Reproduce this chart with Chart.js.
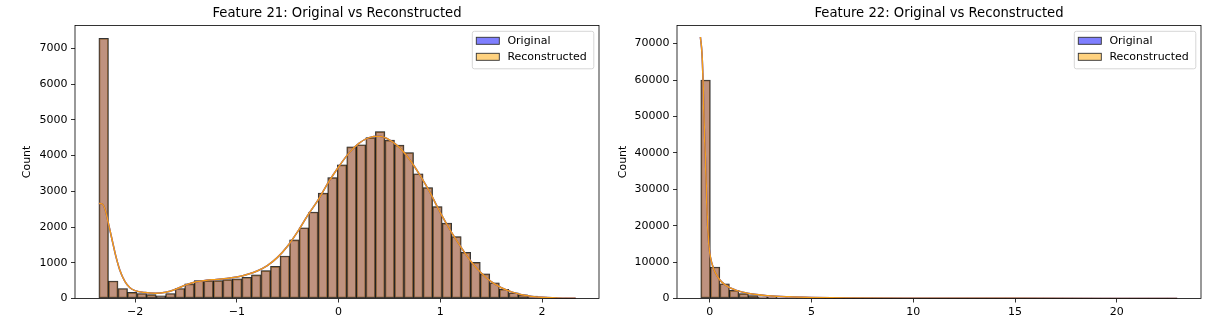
<!doctype html>
<html><head><meta charset="utf-8">
<script src="https://cdn.jsdelivr.net/npm/chart.js@4.4.0/dist/chart.umd.min.js"></script>
<style>
  body{margin:0;background:#fff;width:1213px;height:328px;overflow:hidden;position:relative}
  .box{position:absolute;top:0;height:328px}
  #b21{left:0;width:606px}
  #b22{left:606px;width:607px}
</style></head><body>
<div class="box" id="b21"><canvas id="f21"></canvas></div>
<div class="box" id="b22"><canvas id="f22"></canvas></div>
<script>
// Feature 21: 50 bins, original and reconstructed histograms coincide
const f21BinStart = -2.355;
const f21BinWidth = 0.0937;
const f21Counts = [7280, 490, 280, 170, 140, 110, 75, 140, 280, 410,
  500, 500, 500, 530, 550, 595, 660, 780, 900, 1190,
  1640, 1980, 2420, 2950, 3380, 3740, 4240, 4300, 4500, 4670,
  4430, 4290, 4080, 3490, 3100, 2570, 2110, 1730, 1290, 1010,
  690, 440, 260, 160, 100, 65, 40, 25, 15, 10];
const f21KdeX = [-2.355, -2.32, -2.29, -2.26, -2.23, -2.19, -2.15, -2.10, -2.05, -2.0,
  -1.9, -1.8, -1.7, -1.6, -1.5, -1.4, -1.3, -1.2, -1.1, -1.0,
  -0.9, -0.8, -0.7, -0.6, -0.5, -0.4, -0.3, -0.2, -0.1, 0.0,
  0.1, 0.2, 0.3, 0.4, 0.5, 0.6, 0.7, 0.8, 0.9, 1.0,
  1.1, 1.2, 1.3, 1.4, 1.5, 1.6, 1.7, 1.8, 1.9, 2.0, 2.1, 2.2, 2.33];
const f21KdeY = [2660, 2640, 2450, 2080, 1700, 1200, 800, 480, 300, 220,
  165, 150, 175, 260, 380, 470, 510, 530, 560, 600,
  670, 770, 920, 1150, 1470, 1880, 2340, 2760, 3250, 3680,
  4060, 4340, 4500, 4540, 4440, 4220, 3880, 3450, 2960, 2400,
  1900, 1450, 1040, 720, 470, 300, 185, 105, 58, 32, 18, 10, 5];
const f21XTicks = [-2, -1, 0, 1, 2];
const f21YTicks = [0, 1000, 2000, 3000, 4000, 5000, 6000, 7000];

// Feature 22
const f22BinStart = -0.44;
const f22BinWidth = 0.468;
const f22Counts = [60000, 8650, 4050, 2250, 1350, 820, 470, 300, 200, 150,
  110, 85, 65, 50, 40, 32, 26, 22, 18, 15,
  13, 11, 10, 9, 8, 7, 6, 6, 5, 5,
  4, 4, 4, 3, 3, 3, 3, 2, 2, 2,
  2, 2, 2, 1, 1, 1, 1, 1, 1, 1];
const f22KdeX = [-0.46, -0.38, -0.33, -0.27, -0.21, -0.13, -0.05, 0.03, 0.2, 0.44,
  0.77, 1.27, 1.92, 2.9, 3.9, 5, 7, 10, 15, 20, 22.97];
const f22KdeY = [71800, 67100, 59800, 47000, 37900, 23300, 15100, 11400, 8000, 5500,
  3650, 2300, 1350, 730, 450, 280, 150, 80, 40, 20, 12];
const f22XTicks = [0, 5, 10, 15, 20];
const f22YTicks = [0, 10000, 20000, 30000, 40000, 50000, 60000, 70000];

const FONT = '"DejaVu Sans", sans-serif';
const FS = 11;
const BLUE_FILL = 'rgba(0,0,255,0.5)';
const ORANGE_FILL = 'rgba(255,165,0,0.5)';
const EDGE = 'rgba(0,0,0,0.55)';

// frame, title and matplotlib-like legend box
const decor = {
  id: 'decor',
  afterDraw(chart, args, o) {
    const { ctx, chartArea: a } = chart;
    ctx.save();
    ctx.strokeStyle = '#000';
    ctx.lineWidth = 0.8;
    ctx.strokeRect(a.left, a.top, a.right - a.left, a.bottom - a.top);

    ctx.fillStyle = '#000';
    ctx.font = `13.2px ${FONT}`;
    ctx.textAlign = 'center';
    ctx.textBaseline = 'middle';
    ctx.fillText(o.title, (a.left + a.right) / 2, 13.5);

    const w = 121.5, h = 37.5;
    const x = a.right - 5.7 - w, y = a.top + 5.4;
    ctx.beginPath();
    ctx.roundRect(x + 0.5, y + 0.5, w, h, 2);
    ctx.fillStyle = 'rgba(255,255,255,0.8)';
    ctx.fill();
    ctx.strokeStyle = '#d6d6d6';
    ctx.lineWidth = 1;
    ctx.stroke();

    const items = [['Original', BLUE_FILL], ['Reconstructed', ORANGE_FILL]];
    ctx.font = `${FS}px ${FONT}`;
    ctx.textAlign = 'left';
    items.forEach(([label, fill], i) => {
      const cy = y + 10 + i * 16;
      ctx.fillStyle = '#fff';
      ctx.fillRect(x + 4.5, cy - 3.5, 23, 7);
      ctx.fillStyle = fill;
      ctx.fillRect(x + 4.5, cy - 3.5, 23, 7);
      ctx.strokeStyle = '#333';
      ctx.lineWidth = 0.9;
      ctx.strokeRect(x + 4.5, cy - 3.5, 23, 7);
      ctx.fillStyle = '#000';
      ctx.fillText(label, x + 35.6, cy + 0.5);
    });
    ctx.restore();
  }
};

function histPoints(start, width, counts) {
  return counts.map((c, i) => ({ x: start + (i + 0.5) * width, y: c }));
}
function kdePoints(xs, ys) {
  return xs.map((x, i) => ({ x, y: ys[i] }));
}
const minus = v => String(v).replace('-', '\u2212');

function makeChart(id, o) {
  const bars = histPoints(o.binStart, o.binWidth, o.counts);
  const kde = kdePoints(o.kdeX, o.kdeY);
  const barDs = (fill, order) => ({
    type: 'bar', data: bars, backgroundColor: fill, borderColor: EDGE,
    borderWidth: 1, borderSkipped: false, grouped: false,
    barPercentage: 1, categoryPercentage: 1, order
  });
  const lineDs = (color, order) => ({
    type: 'line', data: kde, borderColor: color, borderWidth: 1.5,
    pointRadius: 0, fill: false, cubicInterpolationMode: 'monotone', order
  });
  return new Chart(document.getElementById(id), {
    type: 'bar',
    data: {
      datasets: [
        barDs(BLUE_FILL, 3),
        barDs(ORANGE_FILL, 2),
        lineDs('rgb(40,40,230)', 1),
        lineDs('rgb(243,156,24)', 0)
      ]
    },
    options: {
      responsive: true,
      maintainAspectRatio: false,
      animation: false,
      events: [],
      layout: { padding: { top: 25.4, right: o.padRight, left: 0, bottom: 0 } },
      plugins: { legend: { display: false }, tooltip: { enabled: false }, decor: { title: o.title } },
      scales: {
        x: {
          type: 'linear', min: o.xMin, max: o.xMax, offset: false,
          grid: { offset: false, drawOnChartArea: false, drawTicks: true, tickLength: 4, tickColor: '#000', tickWidth: 0.8 },
          border: { display: false },
          afterBuildTicks: s => { s.ticks = o.xTicks.map(v => ({ value: v })); },
          afterFit: s => { s.height = 29.5; },
          ticks: { color: '#000', font: { family: FONT, size: FS }, padding: 2.7, maxRotation: 0, callback: v => minus(v) }
        },
        y: {
          type: 'linear', min: 0, max: o.yMax,
          grid: { drawOnChartArea: false, drawTicks: true, tickLength: 4, tickColor: '#000', tickWidth: 0.8 },
          border: { display: false },
          afterBuildTicks: s => { s.ticks = o.yTicks.map(v => ({ value: v })); },
          afterFit: s => { s.width = o.yWidth; },
          ticks: { color: '#000', font: { family: FONT, size: FS }, padding: 3.5, callback: v => String(v) },
          title: { display: true, text: 'Count', color: '#000', font: { family: FONT, size: FS }, padding: { top: o.countPad, bottom: 0 } }
        }
      }
    },
    plugins: [decor]
  });
}

makeChart('f21', {
  title: 'Feature 21: Original vs Reconstructed',
  binStart: f21BinStart, binWidth: f21BinWidth, counts: f21Counts,
  kdeX: f21KdeX, kdeY: f21KdeY, xTicks: f21XTicks, yTicks: f21YTicks,
  xMin: -2.59, xMax: 2.56, yMax: 7640, yWidth: 75, countPad: 20.7, padRight: 7
});
makeChart('f22', {
  title: 'Feature 22: Original vs Reconstructed',
  binStart: f22BinStart, binWidth: f22BinWidth, counts: f22Counts,
  kdeX: f22KdeX, kdeY: f22KdeY, xTicks: f22XTicks, yTicks: f22YTicks,
  xMin: -1.61, xMax: 24.14, yMax: 75000, yWidth: 71, countPad: 10.1, padRight: 12
});
</script></body></html>
